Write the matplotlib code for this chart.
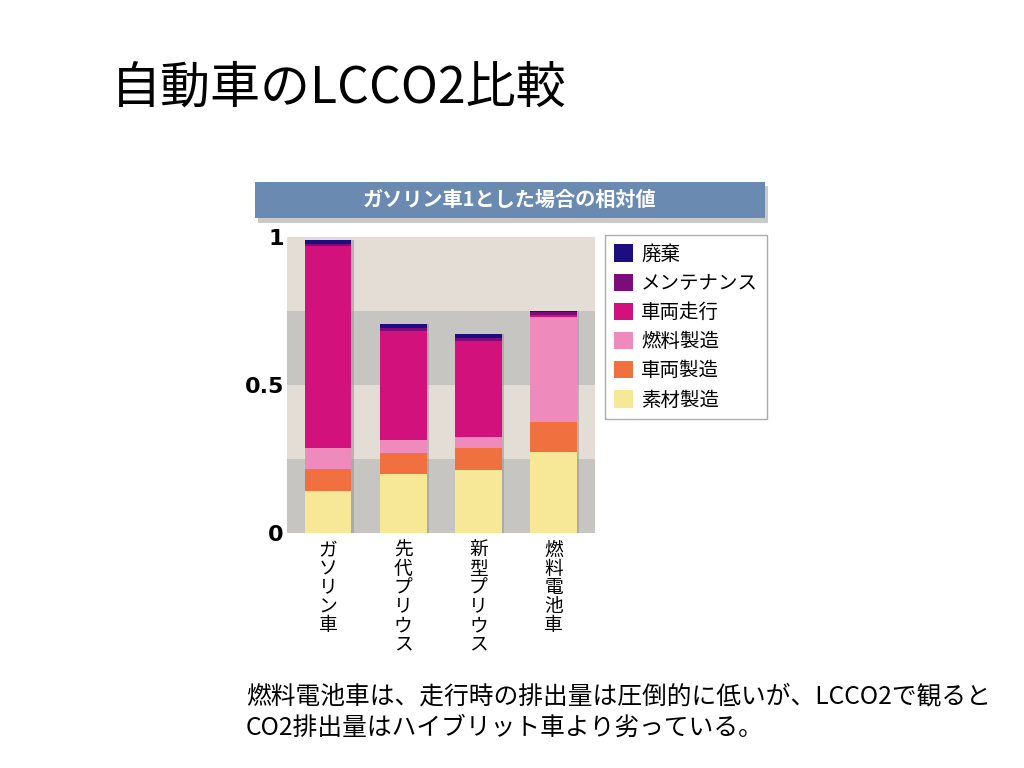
import numpy as np
import matplotlib.pyplot as plt
from matplotlib.patches import Rectangle, Patch

plt.rcParams['font.family'] = ['Noto Sans CJK JP', 'DejaVu Sans']

cars = ["ガソリン車", "先代プリウス", "新型プリウス", "燃料電池車"]
stages = ["素材製造", "車両製造", "燃料製造", "車両走行", "メンテナンス", "廃棄"]
colors = ["#f7e898", "#f07040", "#ef8abd", "#d2117c", "#7c0c7a", "#1c0e80"]

# relative values (gasoline car = 1)
material = [0.143, 0.198, 0.213, 0.273]
vehicle_mfg = [0.072, 0.071, 0.073, 0.101]
fuel_mfg = [0.071, 0.045, 0.039, 0.357]
driving = [0.684, 0.368, 0.325, 0.006]
maintenance = [0.009, 0.012, 0.010, 0.010]
disposal = [0.013, 0.013, 0.013, 0.003]
series = [material, vehicle_mfg, fuel_mfg, driving, maintenance, disposal]

yticks = [0, 0.5, 1]
yticklabels = ["0", "0.5", "1"]


def main():
    fig = plt.figure(figsize=(10.24, 7.68), dpi=100)
    fig.patch.set_facecolor("white")

    fig.text(0.108, 0.884, "自動車のLCCO2比較", fontsize=36, va="center", ha="left")

    # header bar
    fig.add_artist(Rectangle((0.252, 0.710), 0.498, 0.048, transform=fig.transFigure,
                             facecolor="#c9c9c9", edgecolor="none"))
    fig.add_artist(Rectangle((0.249, 0.716), 0.498, 0.047, transform=fig.transFigure,
                             facecolor="#6b8ab2", edgecolor="none"))
    fig.text(0.498, 0.740, "ガソリン車1とした場合の相対値", fontsize=14.5, color="white",
             fontweight="bold", ha="center", va="center")

    ax = fig.add_axes([0.280, 0.306, 0.301, 0.385])
    ax.set_xlim(-0.55, 3.55)
    ax.set_ylim(0, 1)

    band_colors = ["#c7c5c1", "#e4ddd6", "#c7c5c1", "#e4ddd6"]
    for i, c in enumerate(band_colors):
        ax.axhspan(i * 0.25, (i + 1) * 0.25, color=c, lw=0, zorder=0)

    x = np.arange(len(cars))
    totals = np.sum(series, axis=0)
    # faint shadow on the right of each bar
    ax.bar(x + 0.03, totals, width=0.62, color="#9a9898", alpha=0.6, zorder=1)
    bottom = np.zeros(len(cars))
    for vals, c, name in zip(series, colors, stages):
        ax.bar(x, vals, width=0.62, bottom=bottom, color=c, label=name, zorder=2)
        bottom += np.array(vals)

    ax.set_yticks(yticks)
    ax.set_yticklabels(yticklabels, fontsize=16, fontweight="bold", family="DejaVu Sans")
    ax.set_xticks(x)
    ax.set_xticklabels(["\n".join(c) for c in cars], fontsize=13.5, va="top",
                       linespacing=0.86)
    ax.tick_params(length=0, pad=5)
    ax.tick_params(axis="y", pad=2)
    for s in ax.spines.values():
        s.set_visible(False)

    handles = [Patch(facecolor=c, edgecolor="none") for c in colors[::-1]]
    leg = fig.legend(handles, stages[::-1], loc="upper left",
                     bbox_to_anchor=(0.591, 0.694), fontsize=14,
                     handlelength=1.0, handleheight=1.0, handletextpad=0.4,
                     labelspacing=0.42, borderpad=0.45, borderaxespad=0,
                     fancybox=False, edgecolor="#aaaaaa", framealpha=1)
    leg.get_frame().set_linewidth(1.0)

    fig.text(0.240, 0.073, "燃料電池車は、走行時の排出量は圧倒的に低いが、LCCO2で観ると\nCO2排出量はハイブリット車より劣っている。",
             fontsize=17.8, ha="left", va="center", linespacing=1.3)

    fig.savefig("out.png", dpi=100)


if __name__ == "__main__":
    main()
